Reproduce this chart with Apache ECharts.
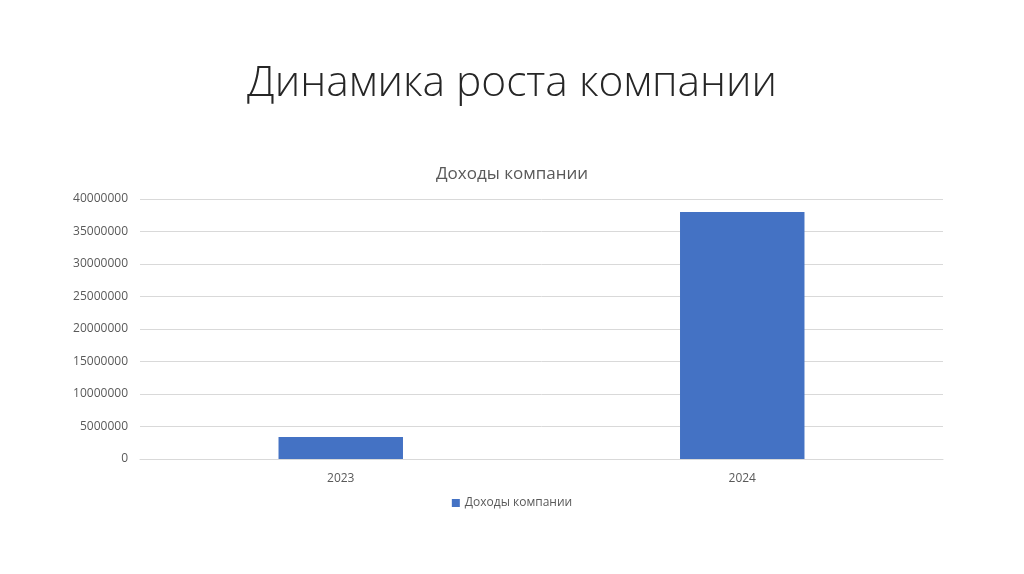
<!DOCTYPE html>
<html><head><meta charset="utf-8">
<script src="https://cdn.jsdelivr.net/npm/echarts@6/dist/echarts.min.js"></script>
<style>html,body{margin:0;padding:0;background:#fff}#c{width:1024px;height:574px}</style>
</head><body><div id="c"></div>
<script>
const categories = ['2023', '2024'];
const seriesName = 'Доходы компании';
const revenue = [3400000, 38000000];
const yTicks = { min: 0, max: 40000000, interval: 5000000 };

const chart = echarts.init(document.getElementById('c'), null, { renderer: 'canvas' });
chart.setOption({
  animation: false,
  backgroundColor: '#ffffff',
  title: [
    { text: 'Динамика роста компании', left: 'center', top: 57,
      textStyle: { fontFamily: 'Open Sans', fontWeight: 300, fontSize: 42.5, color: '#262626' } },
    { text: 'Доходы компании', left: 'center', top: 161,
      textStyle: { fontFamily: 'Open Sans', fontWeight: 'normal', fontSize: 17, color: '#595959' } }
  ],
  grid: { left: 140, right: 81, top: 199, bottom: 115, containLabel: false },
  legend: { bottom: 60, left: 'center', itemWidth: 8, itemHeight: 8, icon: 'rect', itemGap: 6,
    textStyle: { fontFamily: 'Open Sans', fontSize: 12, color: '#595959' },
    data: [seriesName] },
  xAxis: { type: 'category', data: categories,
    axisLine: { lineStyle: { color: '#d9d9d9' } }, axisTick: { show: false },
    axisLabel: { fontFamily: 'Open Sans', fontSize: 12, color: '#595959', margin: 14 } },
  yAxis: { type: 'value', min: yTicks.min, max: yTicks.max, interval: yTicks.interval,
    axisLine: { show: false }, axisTick: { show: false },
    splitLine: { lineStyle: { color: '#d9d9d9' } },
    axisLabel: { fontFamily: 'Open Sans', fontSize: 12, color: '#595959', margin: 12,
      formatter: v => String(v) } },
  series: [{ name: seriesName, type: 'bar', data: revenue, barWidth: '31%',
    itemStyle: { color: '#4472c4' } }]
});
</script></body></html>
